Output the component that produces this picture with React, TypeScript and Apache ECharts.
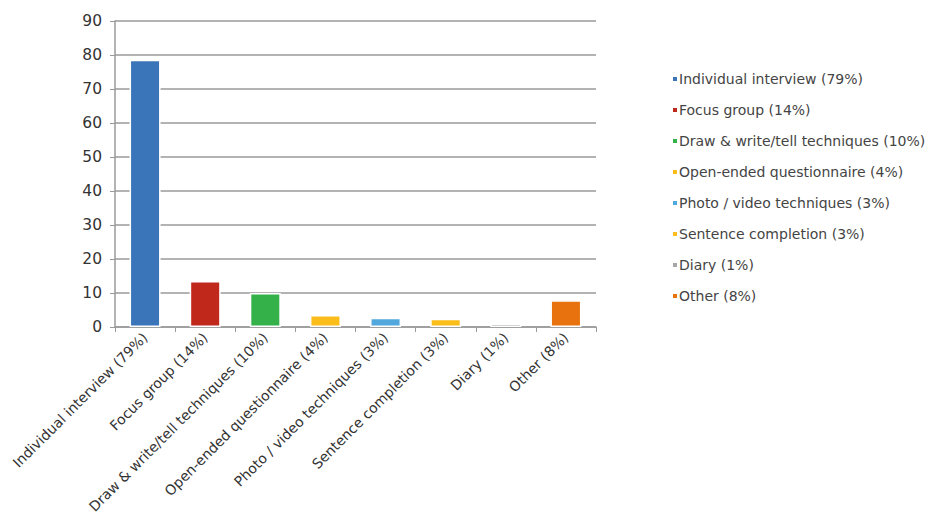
import React, { useEffect, useRef } from "react";
import * as echarts from "echarts";

const categories = [
  "Individual interview (79%)",
  "Focus group (14%)",
  "Draw & write/tell techniques (10%)",
  "Open-ended questionnaire (4%)",
  "Photo / video techniques (3%)",
  "Sentence completion (3%)",
  "Diary (1%)",
  "Other (8%)",
];
const values = [78.6, 13.5, 10.0, 3.5, 2.7, 2.4, 1.0, 7.9];
const colors = ["#3a75ba", "#c0281b", "#35b14a", "#fbbd19", "#52a8dc", "#fbbd19", "#a6a6a6", "#e8720d"];
const yTicks = { min: 0, max: 90, interval: 10 };

export default function App() {
  const ref = useRef<HTMLDivElement>(null);
  useEffect(() => {
    if (!ref.current) return;
    const chart = echarts.init(ref.current, undefined, { renderer: "svg" });
    const font = "'DejaVu Sans', sans-serif";
    chart.setOption({
      animation: false,
      grid: { left: 107, top: 13, right: 332, bottom: 188, containLabel: false, outerBoundsMode: "none" },
      legend: {
        orient: "vertical",
        left: 660,
        top: 59,
        itemWidth: 4,
        itemHeight: 4,
        itemGap: 17,
        icon: "rect",
        itemStyle: { borderWidth: 0 },
        textStyle: { fontFamily: font, fontSize: 14, color: "#444", padding: [0, 0, 0, -3] },
        data: categories,
      },
      xAxis: {
        type: "category",
        data: categories,
        axisLine: { show: true, lineStyle: { color: "#9a9a9a", width: 1.5 } },
        axisTick: { show: true, length: 5, lineStyle: { color: "#9a9a9a" } },
        axisLabel: {
          rotate: 45,
          interval: 0,
          margin: 8,
          fontFamily: font,
          fontSize: 14,
          color: "#333",
        },
      },
      yAxis: {
        type: "value",
        min: yTicks.min,
        max: yTicks.max,
        interval: yTicks.interval,
        axisLine: { show: true, lineStyle: { color: "#9a9a9a", width: 1.5 } },
        axisTick: { show: true, length: 5, lineStyle: { color: "#9a9a9a" } },
        axisLabel: { fontFamily: font, fontSize: 15.5, color: "#333", margin: 13 },
        splitLine: { lineStyle: { color: "#9a9a9a", width: 1.5 } },
      },
      series: categories.map((name, i) => ({
        name,
        type: "bar",
        stack: "all",
        barWidth: 31,
        itemStyle: { color: colors[i], borderColor: "#fff", borderWidth: 1.5 },
        data: values.map((v, j) => (j === i ? v : "-")),
      })),
    });
    return () => chart.dispose();
  }, []);
  return <div ref={ref} style={{ width: 920, height: 507 }} />;
}
